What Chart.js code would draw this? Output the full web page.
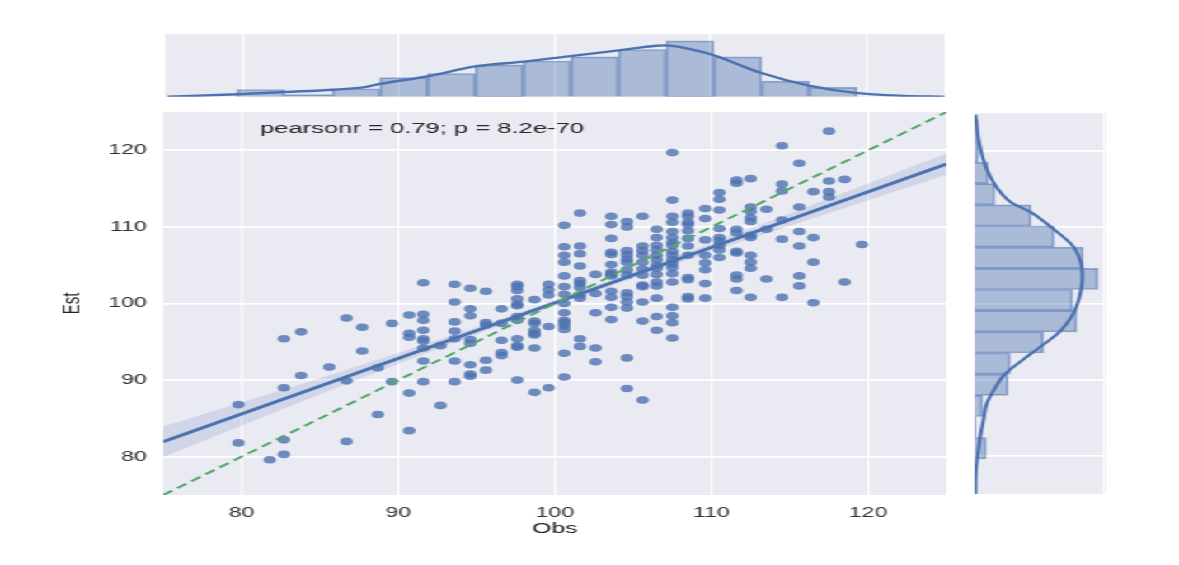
<!DOCTYPE html>
<html><head><meta charset="utf-8">
<script src="https://cdn.jsdelivr.net/npm/chart.js@4.4.1/dist/chart.umd.min.js"></script>
<style>
html,body{margin:0;padding:0;background:#fff;width:1179px;height:565px;overflow:hidden;}
#wrap{position:absolute;left:0;top:0;width:715px;height:565px;transform:scaleX(1.64895);transform-origin:0 0;}
.box{position:absolute;}
</style></head><body>
<div id="wrap">
  <div class="box" style="left:0;top:0;width:715px;height:565px"><canvas id="main"></canvas></div>
  <div class="box" style="left:99px;top:33px;width:475px;height:65px"><canvas id="top"></canvas></div>
  <div class="box" style="left:590px;top:112px;width:82px;height:383px"><canvas id="right"></canvas></div>
</div>
<script>
// ---- data ----
const obsColumns = [79.8, 81.8, 82.7, 83.8, 85.6, 86.7, 87.7, 88.7, 89.6, 90.7, 91.6, 92.7, 93.6, 94.6, 95.6, 96.6, 97.6, 98.7, 99.6, 100.6, 101.6, 102.6, 103.6, 104.6, 105.6, 106.5, 107.5, 108.5, 109.6, 110.5, 111.6, 112.5, 113.5, 114.5, 115.6, 116.5, 117.5, 118.5, 119.6];
const estByColumn = [
  [86.8, 81.8],
  [79.6],
  [95.4, 89.0, 82.2, 80.3],
  [96.3, 90.6],
  [91.7],
  [98.1, 89.9, 82.0],
  [96.9, 93.8],
  [91.6, 85.5],
  [97.4, 89.8],
  [98.5, 96.1, 95.6, 88.3, 83.4],
  [102.7, 98.6, 97.8, 96.5, 95.4, 95.1, 94.2, 92.5, 89.8],
  [94.5, 86.7],
  [102.5, 100.2, 97.6, 96.4, 95.4, 92.5, 89.8],
  [102.0, 99.3, 98.4, 95.3, 94.8, 92.0, 90.8, 90.5],
  [101.6, 97.5, 97.2, 92.6, 91.3],
  [99.3, 97.4, 95.2, 93.6, 93.2],
  [102.5, 102.2, 101.7, 100.6, 99.9, 99.7, 98.3, 97.8, 95.4, 94.5, 94.3, 90.0],
  [100.5, 97.7, 97.4, 96.5, 96.1, 95.9, 94.2, 88.4],
  [102.5, 101.8, 101.1, 97.0, 89.0],
  [110.2, 107.4, 106.3, 105.4, 103.6, 102.2, 101.2, 100.0, 98.8, 97.8, 97.5, 97.1, 96.6, 93.5, 90.4],
  [111.8, 107.5, 106.5, 104.9, 103.0, 102.6, 102.1, 101.1, 100.7, 95.4, 94.4],
  [103.8, 101.3, 98.8, 94.2, 92.4],
  [111.4, 110.3, 108.5, 106.7, 106.4, 105.1, 104.1, 103.8, 103.6, 101.6, 100.8, 99.5, 97.9],
  [110.7, 110.0, 106.9, 106.4, 105.8, 105.4, 104.4, 103.7, 101.4, 100.9, 100.2, 99.4, 92.9, 88.9],
  [111.4, 107.5, 106.9, 106.3, 105.4, 104.5, 103.7, 102.4, 102.2, 100.2, 97.7, 87.4],
  [109.7, 108.6, 107.6, 107.0, 106.3, 105.7, 105.0, 104.6, 103.8, 102.8, 102.3, 100.7, 98.3, 96.5],
  [119.7, 113.5, 111.4, 110.6, 109.4, 108.6, 108.0, 107.6, 106.8, 106.3, 105.7, 105.2, 104.7, 103.9, 102.8, 99.5, 98.4, 97.5, 95.5],
  [111.8, 111.4, 110.6, 110.3, 109.5, 108.5, 107.5, 106.3, 103.4, 103.1, 100.9, 100.6],
  [112.4, 111.1, 108.3, 106.3, 105.3, 104.4, 102.6, 100.7],
  [114.5, 113.6, 112.2, 109.8, 108.6, 108.2, 107.6, 107.0, 106.0],
  [116.1, 115.7, 109.7, 109.2, 106.8, 106.6, 103.7, 103.2, 101.7],
  [116.3, 112.6, 112.0, 111.2, 110.7, 108.9, 108.6, 106.3, 105.4, 104.6, 100.8],
  [112.3, 109.7, 103.2],
  [120.6, 115.6, 114.7, 110.9, 108.4, 100.8],
  [118.3, 112.6, 109.4, 107.5, 103.6, 102.3],
  [114.6, 108.6, 105.4, 100.1],
  [122.5, 116.0, 114.6, 113.9],
  [116.2, 102.8],
  [107.7]
];
const xTicks = [80, 90, 100, 110, 120];
const yTicks = [80, 90, 100, 110, 120];
const regObs = [75, 125];
const regEst = [81.95, 118.2];
const bandObs   = [75, 80, 85, 90, 95, 100, 105, 110, 115, 120, 125];
const bandLower = [79.95, 84.08, 88.15, 92.13, 96.0, 99.73, 103.3, 106.78, 110.15, 113.48, 116.8];
const bandUpper = [83.95, 87.08, 90.25, 93.53, 96.9, 100.43, 104.1, 107.88, 111.75, 115.68, 119.6];
const idObs = [75, 125];
const idEst = [75, 125];
const obsBinCenters = [81.13, 84.19, 87.25, 90.31, 93.37, 96.43, 99.49, 102.55, 105.61, 108.67, 111.73, 114.79, 117.85];
const obsHist = [3.9, 1.2, 4.3, 10.3, 12.5, 17.1, 19.2, 21.4, 25.4, 30, 21.4, 8.4, 5.1];
const obsKdeX = [75.15, 79.6, 82.7, 85.8, 87.7, 88.8, 91.9, 94.9, 98.0, 101.0, 104.1, 106.5, 107.1, 108.6, 110.2, 113.2, 116.3, 119.3, 122.4, 125];
const obsKdeY = [0, 1.4, 2.6, 3.8, 5.1, 6.9, 11.1, 16.3, 18.9, 21.8, 24.9, 27.4, 27.6, 25.7, 22.3, 12.9, 6.0, 2.1, 0.5, 0];
const estBinCenters = [80.99, 83.77, 86.55, 89.33, 92.11, 94.89, 97.67, 100.45, 103.23, 106.01, 108.79, 111.57, 114.35, 117.13, 119.91, 122.69];
const estHist = [2.8, 0.3, 1.9, 8.1, 8.6, 16.7, 24.8, 23.8, 30, 26.4, 19.3, 13.7, 4.9, 3.3, 0.9, 0.9];
const estKdeY = [75.0, 78.1, 80.3, 82.4, 84.6, 86.8, 88.5, 90.7, 92.4, 94.6, 96.3, 98.5, 100.7, 103.3, 105.4, 107.6, 109.8, 112.0, 113.3, 115.0, 117.2, 118.9, 121.5, 124.8];
const estKdeV = [0.16, 0.3, 0.8, 1.3, 2.1, 2.9, 4.5, 7.3, 11.2, 16.7, 20.7, 23.8, 25.4, 26.2, 25.8, 23.8, 19.1, 13.6, 8.8, 5.7, 3.3, 2.1, 0.95, 0.16];
const estMarginGrid = [31.3];
const annotationText = 'pearsonr = 0.79; p = 8.2e-70';

// ---- helpers ----
Chart.defaults.font.family = "'Liberation Sans', Arial, sans-serif";
const BLUE = '#4C72B0';
const bgPlugin = {
  id: 'bg',
  beforeDraw(chart) {
    const {ctx, chartArea: a} = chart;
    ctx.save(); ctx.fillStyle = '#EAEAF2';
    ctx.fillRect(a.left, a.top, a.right - a.left, a.bottom - a.top);
    ctx.restore();
  }
};
const annotPlugin = {
  id: 'annot',
  afterDraw(chart) {
    const ctx = chart.ctx;
    ctx.save();
    ctx.font = "15.5px 'Liberation Sans', Arial, sans-serif";
    ctx.fillStyle = '#262626';
    ctx.textBaseline = 'middle';
    ctx.fillText(annotationText, 157.7, 129);
    ctx.restore();
  }
};
const pairs = (xs, ys) => xs.map((x, i) => ({x, y: ys[i]}));
const scatterPts = [];
obsColumns.forEach((x, i) => estByColumn[i].forEach(y => scatterPts.push({x, y})));

const common = {
  animation: false, responsive: true, maintainAspectRatio: false, events: [],
  plugins: {legend: {display: false}, tooltip: {enabled: false}}
};

// ---- main joint plot ----
new Chart(document.getElementById('main'), {
  type: 'scatter',
  data: {datasets: [
    {type: 'line', data: pairs(idObs, idEst), borderColor: '#55A868', borderWidth: 2, borderDash: [7, 4], pointRadius: 0, fill: false, order: 0},
    {type: 'line', data: pairs(regObs, regEst), borderColor: BLUE, borderWidth: 3, pointRadius: 0, fill: false, order: 1},
    {type: 'line', data: pairs(bandObs, bandLower), borderColor: 'transparent', borderWidth: 0, pointRadius: 0, fill: false, order: 2},
    {type: 'line', data: pairs(bandObs, bandUpper), borderColor: 'transparent', borderWidth: 0, pointRadius: 0, fill: '-1', backgroundColor: 'rgba(76,114,176,0.16)', order: 2},
    {type: 'scatter', data: scatterPts, pointRadius: 3.8, pointHoverRadius: 3.8, backgroundColor: 'rgba(76,114,176,0.8)', borderWidth: 0, order: 3}
  ]},
  options: Object.assign({}, common, {
    layout: {padding: {left: 30, right: 141, top: 112, bottom: 20}},
    scales: {
      x: {type: 'linear', min: 75, max: 125,
        afterBuildTicks: s => { s.ticks = xTicks.map(v => ({value: v})); },
        afterFit: s => { s.height = 50; },
        grid: {color: '#ffffff', lineWidth: 1.2, drawTicks: false},
        border: {display: false},
        ticks: {color: '#333', font: {size: 14}, padding: 10},
        title: {display: true, text: 'Obs', color: '#262626', font: {size: 15}, padding: {top: 0, bottom: 7}}
      },
      y: {type: 'linear', min: 75, max: 125,
        afterBuildTicks: s => { s.ticks = yTicks.map(v => ({value: v})); },
        afterFit: s => { s.width = 69; },
        grid: {color: '#ffffff', lineWidth: 1.7, drawTicks: false},
        border: {display: false},
        ticks: {color: '#333', font: {size: 14}, padding: 10},
        title: {display: true, text: 'Est', color: '#262626', font: {size: 15}, padding: {top: 5, bottom: 0}}
      }
    }
  }),
  plugins: [bgPlugin, annotPlugin]
});

// ---- top marginal (Obs) ----
new Chart(document.getElementById('top'), {
  type: 'bar',
  data: {datasets: [
    {type: 'line', data: pairs(obsKdeX, obsKdeY), borderColor: BLUE, borderWidth: 2.4, pointRadius: 0, cubicInterpolationMode: 'monotone', fill: false, order: 0},
    {type: 'bar', data: pairs(obsBinCenters, obsHist), backgroundColor: 'rgba(76,114,176,0.4)', borderColor: 'rgba(76,114,176,0.55)', borderWidth: 1, barPercentage: 1, categoryPercentage: 1, order: 1}
  ]},
  options: Object.assign({}, common, {
    layout: {padding: 0},
    scales: {
      x: {type: 'linear', min: 75, max: 125, offset: false,
        afterBuildTicks: s => { s.ticks = xTicks.map(v => ({value: v})); },
        afterFit: s => { s.height = 0; },
        grid: {color: '#ffffff', lineWidth: 1.2, drawTicks: false, offset: false},
        border: {display: false}, ticks: {display: false}},
      y: {type: 'linear', min: 0, max: 33.6, offset: false,
        afterFit: s => { s.width = 0; },
        grid: {display: false, drawTicks: false, offset: false},
        border: {display: false}, ticks: {display: false}}
    }
  }),
  plugins: [bgPlugin]
});

// ---- right marginal (Est) ----
new Chart(document.getElementById('right'), {
  type: 'bar',
  data: {datasets: [
    {type: 'line', indexAxis: 'y', data: estKdeY.map((y, i) => ({x: estKdeV[i], y})), borderColor: BLUE, borderWidth: 2.2, pointRadius: 0, cubicInterpolationMode: 'monotone', fill: false, order: 0},
    {type: 'bar', indexAxis: 'y', data: estBinCenters.map((y, i) => ({x: estHist[i], y})), backgroundColor: 'rgba(76,114,176,0.4)', borderColor: 'rgba(76,114,176,0.55)', borderWidth: 1, barPercentage: 1, categoryPercentage: 1, order: 1}
  ]},
  options: Object.assign({}, common, {
    indexAxis: 'y',
    layout: {padding: 0},
    scales: {
      x: {type: 'linear', min: 0, max: 32, offset: false,
        afterBuildTicks: s => { s.ticks = estMarginGrid.map(v => ({value: v})); },
        afterFit: s => { s.height = 0; },
        grid: {color: '#ffffff', lineWidth: 1, drawTicks: false, offset: false},
        border: {display: false}, ticks: {display: false}},
      y: {type: 'linear', min: 75, max: 125, offset: false,
        afterBuildTicks: s => { s.ticks = yTicks.map(v => ({value: v})); },
        afterFit: s => { s.width = 0; },
        grid: {color: '#ffffff', lineWidth: 1.7, drawTicks: false, offset: false},
        border: {display: false}, ticks: {display: false}}
    }
  }),
  plugins: [bgPlugin]
});
</script>
</body></html>
